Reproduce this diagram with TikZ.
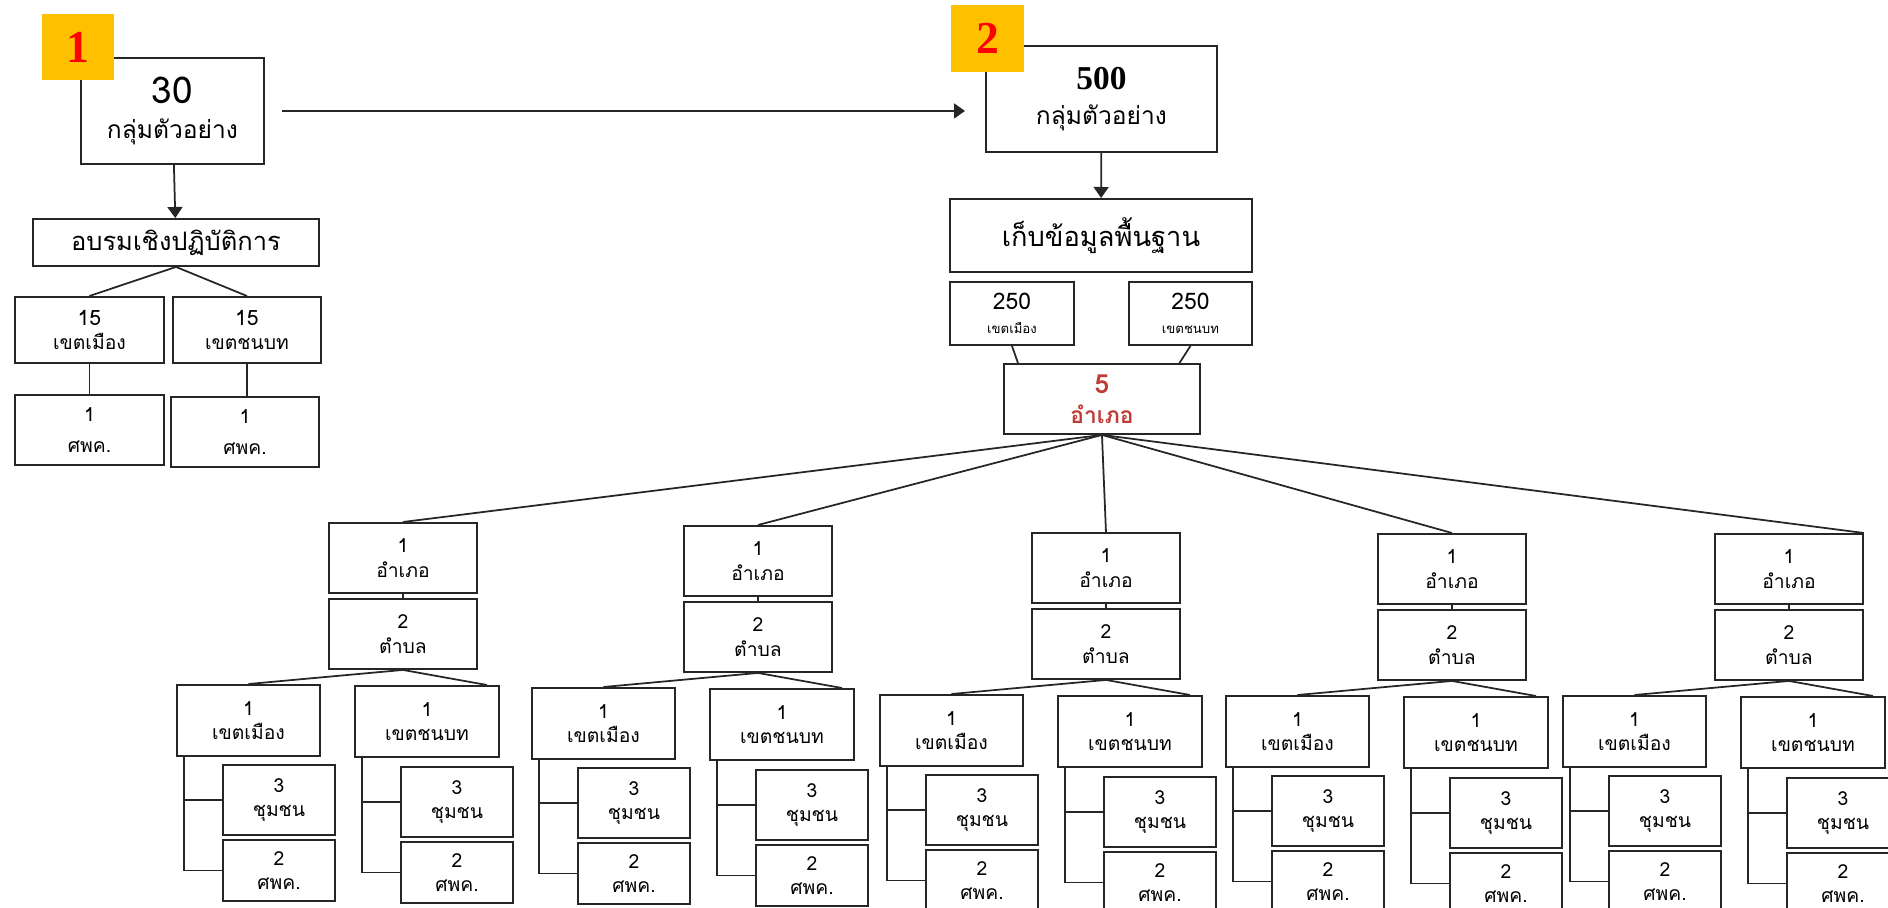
\documentclass[tikz,border=0pt]{standalone}
\usepackage{fontspec}
\setmainfont{Liberation Sans}
\newfontfamily\thaifont[Script=Thai]{Loma}
\newfontfamily\serifnum{Liberation Serif}
\usepackage{tikz}
\usetikzlibrary{arrows.meta, positioning, calc}

\definecolor{badgeyellow}{RGB}{255,192,0}
\definecolor{amphoered}{RGB}{192,60,55}

\tikzset{
  box/.style={draw=black!85, line width=1.1pt, inner sep=0pt, align=center,
              anchor=north west, font=\thaifont\fontsize{11}{14}\selectfont},
  sz/.style 2 args={minimum width=#1*0.02cm, minimum height=#2*0.02cm},
  badge/.style={fill=badgeyellow, anchor=north west, inner sep=0pt, text=red,
                font=\serifnum\bfseries\fontsize{26}{26}\selectfont},
  link/.style={line width=1pt, black!85},
  arr/.style={line width=1pt, black!85, -{Triangle[length=0.22cm,width=0.3cm]}}
}

\begin{document}
\begin{tikzpicture}[x=0.02cm, y=-0.02cm]
  \useasboundingbox (0,0) rectangle (1888,908);
  \clip (0,0) rectangle (1888,908);

  % first sample group
  \node[box, sz={183}{106}, font=\thaifont\fontsize{14}{20}\selectfont] (s30) at (80,57)
       {{\fontsize{21}{22}\selectfont 30}\\ กลุ่มตัวอย่าง};
  \node[badge, sz={72}{66}] (b1) at (42,14) {1};
  \node[box, sz={286}{47}, font=\thaifont\fontsize{14.5}{16}\selectfont] (train) at (32,218) {อบรมเชิงปฏิบัติการ};
  \node[box, sz={149}{66}] (u15) at (14,296) {{\fontsize{12}{13}\selectfont 15}\\ เขตเมือง};
  \node[box, sz={148}{66}] (r15) at (172,296) {{\fontsize{12}{13}\selectfont 15}\\ เขตชนบท};
  \node[box, sz={149}{70}] (u1) at (14,394) {1\\[4pt] ศพค.};
  \node[box, sz={148}{70}] (r1) at (170,396) {1\\[4pt] ศพค.};
  \draw[arr] (s30) -- (train);
  \draw[link] (train.south) -- (u15.north);
  \draw[link] (train.south) -- (r15.north);
  \draw[link] (u15.south) -- (u15.south |- u1.north);
  \draw[link] (r15.south) -- (r15.south |- r1.north);

  % second sample group
  \node[box, sz={231}{106}, font=\thaifont\fontsize{14}{20}\selectfont] (s500) at (985,45)
       {{\serifnum\bfseries\fontsize{19}{20}\selectfont 500}\\ กลุ่มตัวอย่าง};
  \node[badge, sz={73}{67}] (b2) at (951,5) {2};
  \draw[arr, shorten <=0.34cm, shorten >=0.4cm] (s30.east) -- (s30.east -| s500.west);
  \node[box, sz={302}{73}, font=\thaifont\fontsize{15.5}{18}\selectfont] (base) at (949,198) {เก็บข้อมูลพื้นฐาน};
  \draw[arr] (s500) -- (base);
  \node[box, sz={124}{63}] (t250a) at (949,281)
       {{\fontsize{13}{14}\selectfont 250}\\ {\fontsize{7.5}{9}\selectfont เขตเมือง}};
  \node[box, sz={123}{63}] (t250b) at (1128,281)
       {{\fontsize{13}{14}\selectfont 250}\\ {\fontsize{7.5}{9}\selectfont เขตชนบท}};
  \node[box, sz={196}{70}, text=amphoered, font=\thaifont\bfseries\fontsize{13}{17}\selectfont] (amp) at (1003,363)
       {{\fontsize{15}{16}\selectfont 5}\\ อำเภอ};
  \draw[link] (t250a.south) -- ($(t250a.south |- amp.north)+(6,0)$);
  \draw[link] (t250b.south) -- ($(t250b.south |- amp.north)+(-11,0)$);

  % five districts
  \foreach \i/\ax/\ay in {1/328/522, 2/683/525, 3/1031/532, 4/1377/533, 5/1714/533}{
    \node[box, sz={148}{70}] (amp\i) at (\ax,\ay) {1\\ อำเภอ};
    \node[box, sz={148}{70}] (tam\i) at (\ax,\ay+76) {2\\ ตำบล};
    \node[box, sz={143}{71}] (urb\i) at (\ax-152,\ay+162) {1\\ เขตเมือง};
    \node[box, sz={144}{71}] (rur\i) at (\ax+26,\ay+163) {1\\ เขตชนบท};
    \node[box, sz={112}{70}] (uc\i) at (\ax-106,\ay+242) {3\\ ชุมชน};
    \node[box, sz={112}{61}] (us\i) at (\ax-106,\ay+317) {2\\ ศพค.};
    \node[box, sz={112}{70}] (rc\i) at (\ax+72,\ay+244) {3\\ ชุมชน};
    \node[box, sz={112}{61}] (rs\i) at (\ax+72,\ay+319) {2\\ ศพค.};
    \draw[link] (amp\i) -- (tam\i);
    \draw[link] (tam\i.south) -- (urb\i.north);
    \draw[link] (tam\i.south) -- ($(rur\i.north east)+(-13,0)$);
    \draw[link] ($(urb\i.south west)+(8,0)$) coordinate (bu) |- (us\i.west)
                (bu |- uc\i.west) -- (uc\i.west);
    \draw[link] ($(rur\i.south west)+(8,0)$) coordinate (br) |- (rs\i.west)
                (br |- rc\i.west) -- (rc\i.west);
  }
  \foreach \i in {1,...,4}
    \draw[link] (amp.south) -- (amp\i.north);
  \draw[link] (amp.south) -- (amp5.north east);
\end{tikzpicture}
\end{document}
